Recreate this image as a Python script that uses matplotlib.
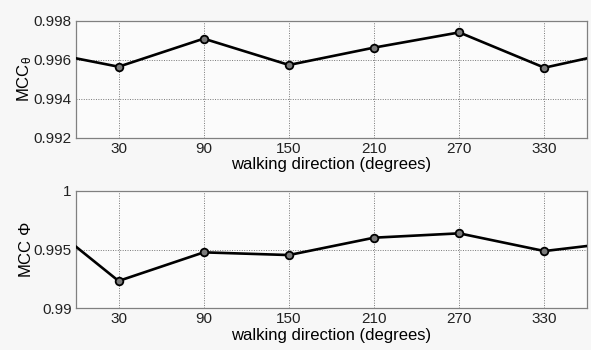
import matplotlib
matplotlib.use("Agg")
import matplotlib.pyplot as plt

angles = [0, 30, 90, 150, 210, 270, 330, 360]
mcc_theta = [0.99607, 0.99564, 0.99708, 0.99573, 0.99662, 0.99740, 0.99559, 0.99607]
mcc_phi = [0.99525, 0.99233, 0.99477, 0.99454, 0.99602, 0.99639, 0.99488, 0.99531]
marker_angles = [30, 90, 150, 210, 270, 330]
xticks = [30, 90, 150, 210, 270, 330]
yticks_theta = [0.992, 0.994, 0.996, 0.998]
yticks_phi = [0.99, 0.995, 1.0]
yticklabels_phi = ["0.99", "0.995", "1"]
xlabel = "walking direction (degrees)"

plt.rcParams['font.family'] = ['Liberation Sans', 'DejaVu Sans']
plt.rcParams['mathtext.fontset'] = 'custom'
plt.rcParams['mathtext.rm'] = 'Liberation Sans'
plt.rcParams['mathtext.it'] = 'Liberation Sans'

fig = plt.figure(figsize=(5.91, 3.5), dpi=100, facecolor='#f7f7f7')
W, H = 591, 350
ax1 = fig.add_axes([76 / W, 1 - 137.7 / H, (587 - 76) / W, (137.7 - 20.7) / H])
ax2 = fig.add_axes([76 / W, 1 - 308.3 / H, (587 - 76) / W, (308.3 - 191) / H])

def style(ax, ys, yticks, ylim, ylab, yticklabels=None):
    ax.set_facecolor('#fbfbfb')
    mark_idx = [angles.index(a) for a in marker_angles]
    ax.plot(angles, ys, color='black', lw=1.9, zorder=3)
    ax.plot(marker_angles, [ys[i] for i in mark_idx], ls='none', marker='o',
            ms=5.5, mfc='#7a7a7a', mec='black', mew=1.3, zorder=4)
    ax.set_xlim(0, 360)
    ax.set_ylim(*ylim)
    ax.set_xticks(xticks)
    ax.set_yticks(yticks)
    if yticklabels is not None:
        ax.set_yticklabels(yticklabels)
    ax.grid(True, ls=(0, (1, 1.5)), color='#777777', lw=0.7)
    ax.tick_params(length=0, labelsize=11, colors='#222222', pad=3)
    for s in ax.spines.values():
        s.set_color('#808080')
        s.set_linewidth(0.9)
    ax.set_xlabel(xlabel, fontsize=12, labelpad=1)
    ax.set_ylabel(ylab, fontsize=12, labelpad=0)

style(ax1, mcc_theta, yticks_theta, (0.992, 0.998), r"MCC$_{\theta}$")
style(ax2, mcc_phi, yticks_phi, (0.99, 1.0), r"MCC $\Phi$", yticklabels_phi)

fig.savefig("out.png", dpi=100, facecolor=fig.get_facecolor())
